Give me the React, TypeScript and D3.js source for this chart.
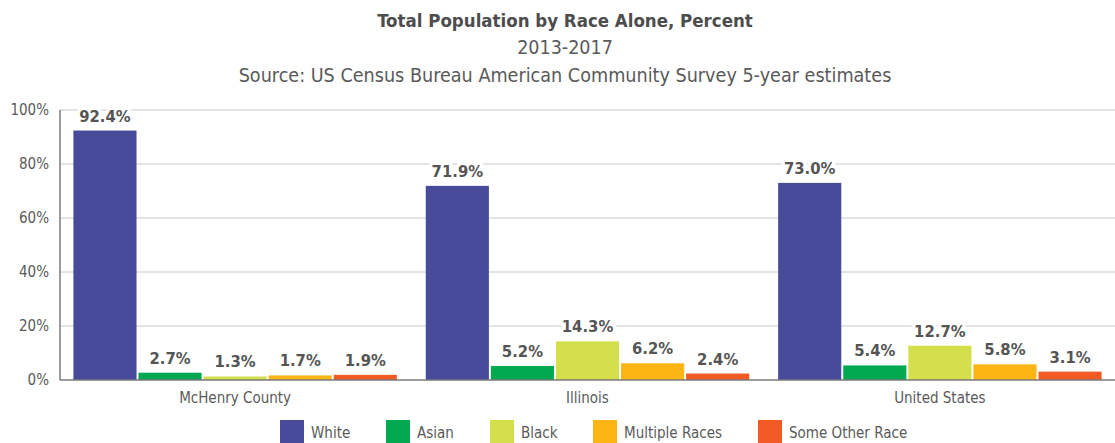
import React from "react";
import * as d3 from "d3";

const categories = ["McHenry County", "Illinois", "United States"];
const seriesNames = ["White", "Asian", "Black", "Multiple Races", "Some Other Race"];
const seriesColors = ["#484A9A", "#00A94F", "#D4E04B", "#FDB515", "#F15A24"];
const white = [92.4, 71.9, 73.0];
const asian = [2.7, 5.2, 5.4];
const black = [1.3, 14.3, 12.7];
const multiple = [1.7, 6.2, 5.8];
const other = [1.9, 2.4, 3.1];
const yTicks = [0, 20, 40, 60, 80, 100];
const titleLines = [
  "Total Population by Race Alone, Percent",
  "2013-2017",
  "Source: US Census Bureau American Community Survey 5-year estimates",
];

const W = 1115;
const H = 443;
const FONT = "'DejaVu Sans Condensed', 'Liberation Sans Narrow', Roboto, sans-serif";
const TEXT = "#5a5a5a";
const LEGEND_X = [280, 386, 490, 593, 758];

export default function App() {
  const series = [white, asian, black, multiple, other];
  const left = 60, right = 1115, top = 110, bottom = 380;
  const x0 = d3.scaleBand<string>().domain(categories).range([left, right]).paddingInner(0.082).paddingOuter(0.038);
  const x1 = d3.scaleBand<string>().domain(seriesNames).range([0, x0.bandwidth()]).paddingInner(0.03);
  const y = d3.scaleLinear().domain([0, 100]).range([bottom, top]);

  return (
    <svg width={W} height={H} style={{ position: "absolute", left: 0, top: 0, background: "#fff" }} fontFamily={FONT}>
      <text x={565} y={27} textAnchor="middle" fontSize={18.5} fontWeight="bold" fill="#4d4d4d">{titleLines[0]}</text>
      <text x={565} y={54} textAnchor="middle" fontSize={19.5} fill={TEXT}>{titleLines[1]}</text>
      <text x={565} y={82} textAnchor="middle" fontSize={19.6} fill={TEXT}>{titleLines[2]}</text>

      {yTicks.map((t) => (
        <g key={t}>
          {t > 0 && <line x1={left} x2={right} y1={y(t)} y2={y(t)} stroke="#c8c8c8" strokeWidth={1} />}
          <text x={49} y={y(t)} dy="0.35em" textAnchor="end" fontSize={15} fill={TEXT}>{t}%</text>
        </g>
      ))}

      {categories.map((c, ci) => (
        <g key={c}>
          {series.map((s, si) => {
            const bx = (x0(c) as number) + (x1(seriesNames[si]) as number);
            const bw = x1.bandwidth();
            const v = s[ci];
            const label = v.toFixed(1) + "%";
            const ly = y(v) - 9;
            return (
              <g key={si}>
                <rect x={bx} y={y(v)} width={bw} height={bottom - y(v)} fill={seriesColors[si]} />
                <text x={bx + bw / 2} y={ly} textAnchor="middle" fontSize={16.5} fontWeight="bold" fill="#555"
                  stroke="#fff" strokeWidth={7} paintOrder="stroke" strokeLinejoin="round">{label}</text>
              </g>
            );
          })}
          <text x={(x0(c) as number) + x0.bandwidth() / 2} y={403} textAnchor="middle" fontSize={15} fill={TEXT}>{c}</text>
        </g>
      ))}

      <line x1={left} x2={left} y1={top} y2={bottom} stroke="#7a7a7a" strokeWidth={1.5} />
      <line x1={left} x2={right} y1={bottom} y2={bottom} stroke="#7a7a7a" strokeWidth={1.5} />

      {seriesNames.map((n, i) => (
        <g key={n}>
          <rect x={LEGEND_X[i]} y={420} width={24} height={23} fill={seriesColors[i]} />
          <text x={LEGEND_X[i] + 31} y={438} fontSize={15} fill={TEXT}>{n}</text>
        </g>
      ))}
    </svg>
  );
}
